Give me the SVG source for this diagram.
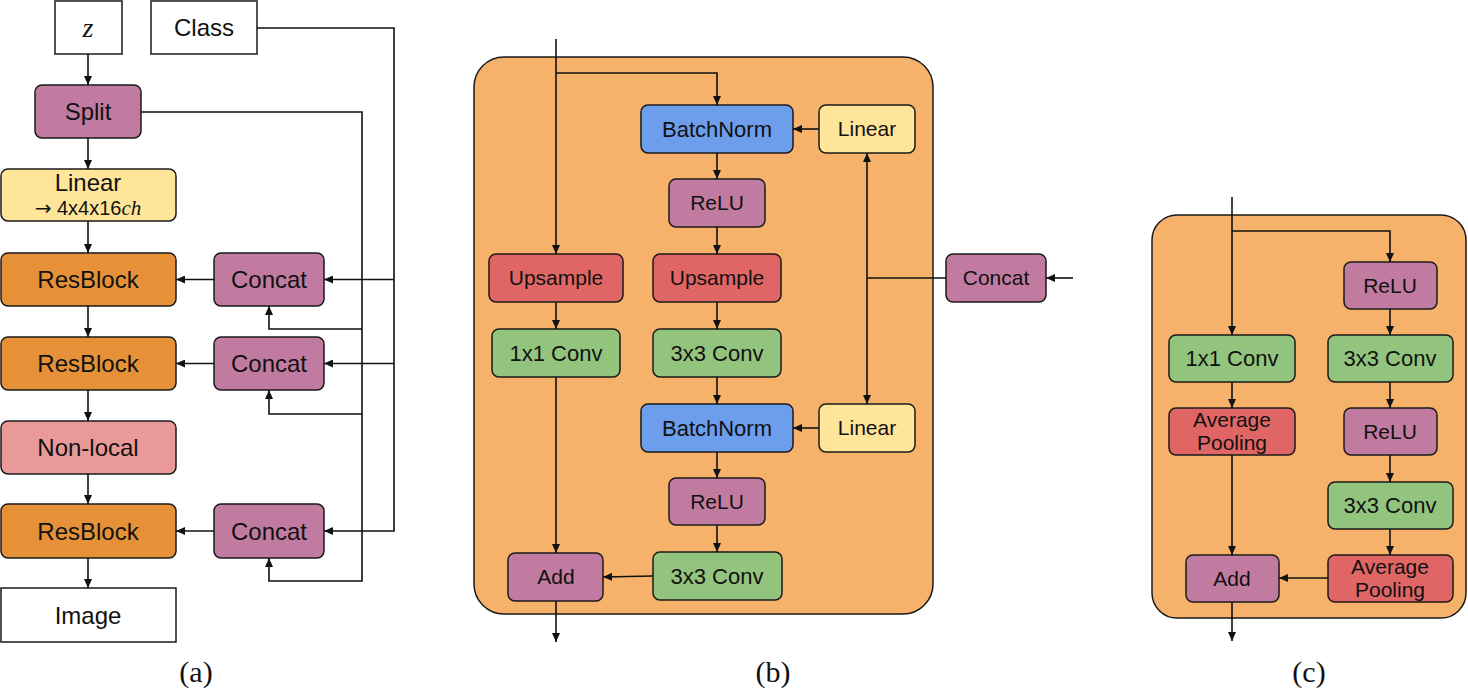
<svg xmlns="http://www.w3.org/2000/svg" width="1468" height="691" viewBox="0 0 1468 691">
<defs>
<marker id="ah" markerUnits="userSpaceOnUse" markerWidth="9" markerHeight="8" refX="9" refY="4" orient="auto">
<path d="M0,0 L9,4 L0,8 Z" fill="#111"/>
</marker>
<style>
.n{stroke:#1a1a1a;stroke-width:1.5}
.w{fill:#ffffff}
.pu{fill:#c27ba0}
.ye{fill:#ffe599}
.or{fill:#e69138}
.pk{fill:#ea9999}
.bl{fill:#6d9eeb}
.rd{fill:#e06666}
.gr{fill:#93c47d}
.ct{fill:#f6b26b;stroke:#1a1a1a;stroke-width:1.5}
text{font-family:"Liberation Sans",Arial,sans-serif;fill:#111;text-anchor:middle}
.a{font-size:24px}
.b{font-size:21px}
.b2{font-size:22px}
.m{font-family:"Liberation Serif","Times New Roman",serif;font-style:italic}
.lab{font-family:"Liberation Serif","Times New Roman",serif;font-size:30px}
.c path{fill:none;stroke:#111;stroke-width:1.6}
</style>
</defs>

<!-- containers -->
<rect id="container-b" class="ct" x="474" y="57" width="459" height="557" rx="30"/>
<rect id="container-c" class="ct" x="1152" y="215" width="314" height="403" rx="25"/>

<!-- (a) nodes -->
<g id="a-z"><rect class="n w" x="55" y="1" width="67" height="53"/><text class="m" x="88" y="37" font-size="28">z</text></g>
<g id="a-class"><rect class="n w" x="151" y="1" width="106" height="53"/><text class="a" x="204" y="36">Class</text></g>
<g id="a-split"><rect class="n pu" x="35" y="85" width="106" height="53" rx="7"/><text class="a" x="88" y="120" font-size="23">Split</text></g>
<g id="a-linear"><rect class="n ye" x="1" y="169" width="175" height="52" rx="7"/><text class="a" x="88" y="191">Linear</text><text x="88" y="215" font-size="20"><tspan font-family="DejaVu Sans, sans-serif" font-size="20">→</tspan> 4x4x16<tspan class="m" font-size="21">ch</tspan></text></g>
<g id="a-res1"><rect class="n or" x="1" y="253" width="175" height="53" rx="7"/><text class="a" x="88" y="288">ResBlock</text></g>
<g id="a-concat1"><rect class="n pu" x="214" y="253" width="110" height="53" rx="7"/><text class="a" x="269" y="288" font-size="23">Concat</text></g>
<g id="a-res2"><rect class="n or" x="1" y="337" width="175" height="53" rx="7"/><text class="a" x="88" y="372">ResBlock</text></g>
<g id="a-concat2"><rect class="n pu" x="214" y="337" width="110" height="53" rx="7"/><text class="a" x="269" y="372" font-size="23">Concat</text></g>
<g id="a-nonlocal"><rect class="n pk" x="1" y="421" width="175" height="53" rx="7"/><text class="a" x="88" y="456">Non-local</text></g>
<g id="a-res3"><rect class="n or" x="1" y="504" width="175" height="54" rx="7"/><text class="a" x="88" y="540">ResBlock</text></g>
<g id="a-concat3"><rect class="n pu" x="214" y="504" width="110" height="54" rx="7"/><text class="a" x="269" y="540" font-size="23">Concat</text></g>
<g id="a-image"><rect class="n w" x="1" y="588" width="175" height="54"/><text class="a" x="88" y="624">Image</text></g>

<!-- (b) nodes -->
<g id="b-bn1"><rect class="n bl" x="641" y="105" width="152" height="48" rx="7"/><text class="b2" x="717" y="137">BatchNorm</text></g>
<g id="b-lin1"><rect class="n ye" x="819" y="105" width="96" height="48" rx="7"/><text class="b" x="867" y="136" font-size="20">Linear</text></g>
<g id="b-relu1"><rect class="n pu" x="669" y="179" width="96" height="48" rx="7"/><text class="b" x="717" y="210" font-size="20">ReLU</text></g>
<g id="b-up1"><rect class="n rd" x="489" y="254" width="134" height="48" rx="7"/><text class="b" x="556" y="285" font-size="20.5">Upsample</text></g>
<g id="b-up2"><rect class="n rd" x="653" y="254" width="128" height="48" rx="7"/><text class="b" x="717" y="285" font-size="20.5">Upsample</text></g>
<g id="b-concat"><rect class="n pu" x="946" y="254" width="100" height="48" rx="7"/><text class="b" x="996" y="285">Concat</text></g>
<g id="b-conv1x1"><rect class="n gr" x="492" y="329" width="128" height="48" rx="7"/><text class="b2" x="556" y="361">1x1 Conv</text></g>
<g id="b-conv3a"><rect class="n gr" x="653" y="329" width="128" height="48" rx="7"/><text class="b2" x="717" y="361">3x3 Conv</text></g>
<g id="b-bn2"><rect class="n bl" x="641" y="404" width="152" height="48" rx="7"/><text class="b2" x="717" y="436">BatchNorm</text></g>
<g id="b-lin2"><rect class="n ye" x="819" y="404" width="96" height="48" rx="7"/><text class="b" x="867" y="435" font-size="20">Linear</text></g>
<g id="b-relu2"><rect class="n pu" x="669" y="478" width="96" height="47" rx="7"/><text class="b" x="717" y="509" font-size="20">ReLU</text></g>
<g id="b-add"><rect class="n pu" x="508" y="553" width="95" height="48" rx="7"/><text class="b" x="556" y="584" font-size="20">Add</text></g>
<g id="b-conv3b"><rect class="n gr" x="653" y="552" width="129" height="48" rx="7"/><text class="b2" x="717" y="584">3x3 Conv</text></g>

<!-- (c) nodes -->
<g id="c-relu1"><rect class="n pu" x="1344" y="262" width="93" height="47" rx="7"/><text class="b" x="1390" y="293" font-size="20">ReLU</text></g>
<g id="c-conv1x1"><rect class="n gr" x="1169" y="335" width="126" height="47" rx="7"/><text class="b2" x="1232" y="366">1x1 Conv</text></g>
<g id="c-conv3a"><rect class="n gr" x="1328" y="335" width="125" height="47" rx="7"/><text class="b2" x="1390" y="366">3x3 Conv</text></g>
<g id="c-pool1"><rect class="n rd" x="1169" y="408" width="126" height="47" rx="7"/><text class="b" x="1232" y="427" font-size="20">Average</text><text class="b" x="1232" y="450" font-size="20">Pooling</text></g>
<g id="c-relu2"><rect class="n pu" x="1344" y="408" width="93" height="47" rx="7"/><text class="b" x="1390" y="439" font-size="20">ReLU</text></g>
<g id="c-conv3b"><rect class="n gr" x="1328" y="482" width="125" height="47" rx="7"/><text class="b2" x="1390" y="513">3x3 Conv</text></g>
<g id="c-add"><rect class="n pu" x="1186" y="555" width="93" height="47" rx="7"/><text class="b" x="1232" y="586" font-size="20">Add</text></g>
<g id="c-pool2"><rect class="n rd" x="1328" y="555" width="125" height="47" rx="7"/><text class="b" x="1390" y="574" font-size="20">Average</text><text class="b" x="1390" y="597" font-size="20">Pooling</text></g>

<!-- connectors -->
<g id="connectors" class="c">
<!-- (a) -->
<path d="M88 54 V85" marker-end="url(#ah)"/>
<path d="M88 138 V169" marker-end="url(#ah)"/>
<path d="M88 221 V253" marker-end="url(#ah)"/>
<path d="M88 306 V337" marker-end="url(#ah)"/>
<path d="M88 390 V421" marker-end="url(#ah)"/>
<path d="M88 474 V504" marker-end="url(#ah)"/>
<path d="M88 558 V588" marker-end="url(#ah)"/>
<path d="M214 279.5 H176" marker-end="url(#ah)"/>
<path d="M214 363.5 H176" marker-end="url(#ah)"/>
<path d="M214 531 H176" marker-end="url(#ah)"/>
<path d="M257 28 H394 V531 H324" marker-end="url(#ah)"/>
<path d="M394 279.5 H324" marker-end="url(#ah)"/>
<path d="M394 363.5 H324" marker-end="url(#ah)"/>
<path d="M141 112 H362 V581 H269 V558" marker-end="url(#ah)"/>
<path d="M362 329 H269 V306" marker-end="url(#ah)"/>
<path d="M362 414 H269 V390" marker-end="url(#ah)"/>
<!-- (b) -->
<path d="M556 39 V254" marker-end="url(#ah)"/>
<path d="M556 73 H717 V105" marker-end="url(#ah)"/>
<path d="M717 153 V179" marker-end="url(#ah)"/>
<path d="M717 227 V254" marker-end="url(#ah)"/>
<path d="M717 302 V329" marker-end="url(#ah)"/>
<path d="M717 377 V404" marker-end="url(#ah)"/>
<path d="M717 452 V478" marker-end="url(#ah)"/>
<path d="M717 525 V552" marker-end="url(#ah)"/>
<path d="M556 302 V329" marker-end="url(#ah)"/>
<path d="M556 377 V553" marker-end="url(#ah)"/>
<path d="M653 576 L603 577" marker-end="url(#ah)"/>
<path d="M556 601 V642" marker-end="url(#ah)"/>
<path d="M819 129 H793" marker-end="url(#ah)"/>
<path d="M819 428 H793" marker-end="url(#ah)"/>
<path d="M946 278 H867"/>
<path d="M867 278 V153" marker-end="url(#ah)"/>
<path d="M867 278 V404" marker-end="url(#ah)"/>
<path d="M1073 278 H1046" marker-end="url(#ah)"/>
<!-- (c) -->
<path d="M1232 197 V335" marker-end="url(#ah)"/>
<path d="M1232 231 H1390 V262" marker-end="url(#ah)"/>
<path d="M1390 309 V335" marker-end="url(#ah)"/>
<path d="M1232 382 V408" marker-end="url(#ah)"/>
<path d="M1390 382 V408" marker-end="url(#ah)"/>
<path d="M1390 455 V482" marker-end="url(#ah)"/>
<path d="M1390 529 V555" marker-end="url(#ah)"/>
<path d="M1232 455 V555" marker-end="url(#ah)"/>
<path d="M1328 578 H1279" marker-end="url(#ah)"/>
<path d="M1232 602 V641" marker-end="url(#ah)"/>
</g>

<!-- panel labels -->
<text class="lab" x="196" y="682">(a)</text>
<text class="lab" x="773" y="682">(b)</text>
<text class="lab" x="1309" y="682">(c)</text>
</svg>
